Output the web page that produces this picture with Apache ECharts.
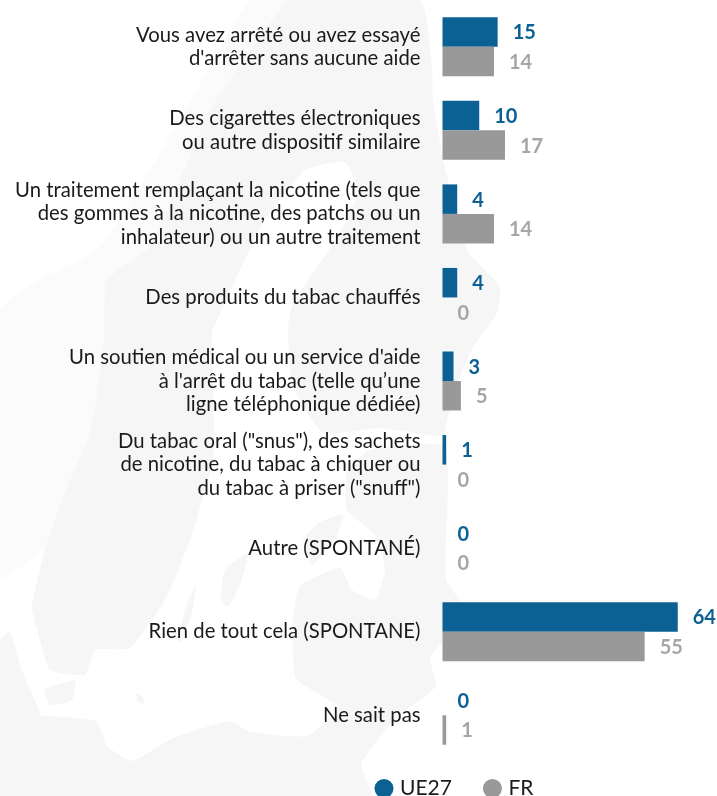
<!DOCTYPE html>
<html style="height: 100%">
<head>
<meta charset="utf-8">
</head>
<body style="height: 100%; margin: 0; background: #fff">
<div id="container" style="width: 717px; height: 796px"></div>
<script src="https://cdn.jsdelivr.net/npm/echarts@6/dist/echarts.min.js"></script>
<script>
var categories = [
  "Vous avez arrêté ou avez essayé\nd'arrêter sans aucune aide",
  "Des cigarettes électroniques\nou autre dispositif similaire",
  "Un traitement remplaçant la nicotine (tels que\ndes gommes à la nicotine, des patchs ou un\ninhalateur) ou un autre traitement",
  "Des produits du tabac chauffés",
  "Un soutien médical ou un service d'aide\nà l'arrêt du tabac (telle qu’une\nligne téléphonique dédiée)",
  "Du tabac oral (\"snus\"), des sachets\nde nicotine, du tabac à chiquer ou\ndu tabac à priser (\"snuff\")",
  "Autre (SPONTANÉ)",
  "Rien de tout cela (SPONTANE)",
  "Ne sait pas"
];
var ue27 = [15, 10, 4, 4, 3, 1, 0, 64, 0];
var fr = [14, 17, 14, 0, 5, 0, 0, 55, 1];

var blue = '#0b6194';
var grey = '#999999';
var font = 'Lato';
var landColor = '#f6f6f6';

// faint map behind the chart, decoration only
var norway = [[287,0],[250,0],[205,75],[150,170],[97,250],[30,285],[0,310],[0,578],[46,546],[67,487],[90,433],[103,353],[107,280],[150,247],[210,110],[277,13]];
var swedenFinland = [[287,0],[420,0],[432,67],[433,100],[443,160],[450,187],[467,250],[500,287],[497,313],[473,347],[460,377],[447,420],[443,436],[380,428],[323,433],[293,387],[288,330],[293,303],[327,253],[347,220],[358,190],[345,162],[305,170],[262,225],[223,307],[212,333],[214,421],[213,460],[196,521],[190,540],[165,600],[130,648],[95,650],[85,675],[50,670],[40,640],[32,607],[46,546],[67,487],[90,433],[103,353],[107,280],[150,247],[210,110],[277,13]];
var southCoast = [[347,470],[370,450],[445,447],[446,579],[468,614],[430,657],[436,686],[393,721],[361,764],[371,796],[0,796],[0,720],[40,716],[96,721],[107,746],[132,761],[171,739],[229,721],[250,732],[307,736],[339,707],[296,679],[293,621],[300,586],[340,568],[352,590],[375,600],[385,570],[375,535],[347,510]];
var jutland = [[0,640],[10,632],[20,665],[30,690],[40,716],[0,720]];
var funen = [[45,690],[75,680],[72,700],[50,705]];
var gotland = [[248,553],[225,570],[221,600],[228,607],[240,585]];
var oland = [[196,586],[188,600],[178,640],[182,642],[192,612]];
var saaremaa = [[303,540],[320,522],[343,515],[335,540],[312,565]];
var bornholm = [[136,693],[143,697],[144,704],[138,702]];

function land(points, color) {
  return {
    type: 'polygon',
    silent: true,
    z: -10,
    shape: { points: points, smooth: 0.15 },
    style: { fill: color }
  };
}

var myChart = echarts.init(document.getElementById('container'));

var option = {
  animation: false,
  backgroundColor: '#fff',
  textStyle: { fontFamily: font },
  graphic: [
    land(norway, '#fbfbfb'),
    land(swedenFinland, landColor),
    land(southCoast, landColor),
    land(jutland, landColor),
    land(funen, landColor),
    land(gotland, landColor),
    land(oland, landColor),
    land(saaremaa, landColor),
    land(bornholm, landColor)
  ],
  legend: {
    data: ['UE27', 'FR'],
    top: 778,
    left: 374.5,
    padding: 0,
    icon: 'circle',
    itemWidth: 19,
    itemHeight: 19,
    itemGap: 31,
    textStyle: { fontSize: 21, color: '#1a1a1a', fontFamily: font, padding: [0, 0, 0, 1.5] }
  },
  grid: { left: 442.5, top: 5, width: 272, height: 752 },
  xAxis: { type: 'value', min: 0, max: 74, show: false },
  yAxis: {
    type: 'category',
    inverse: true,
    data: categories,
    axisLine: { show: false },
    axisTick: { show: false },
    axisLabel: {
      color: '#1a1a1a',
      fontSize: 20.3,
      lineHeight: 23.5,
      margin: 22,
      align: 'right',
      fontFamily: font
    }
  },
  series: [
    {
      name: 'UE27',
      type: 'bar',
      data: ue27,
      barWidth: 29.5,
      barGap: '0%',
      itemStyle: { color: blue },
      label: { show: true, position: 'right', distance: 15, offset: [0, 1], color: blue, fontSize: 20, fontWeight: 'bold', fontFamily: font }
    },
    {
      name: 'FR',
      type: 'bar',
      data: fr,
      barWidth: 29.5,
      itemStyle: { color: grey },
      label: { show: true, position: 'right', distance: 15, offset: [0, 1], color: '#a6a6a6', fontSize: 20, fontWeight: 'bold', fontFamily: font }
    }
  ]
};

myChart.setOption(option);
</script>
</body>
</html>
